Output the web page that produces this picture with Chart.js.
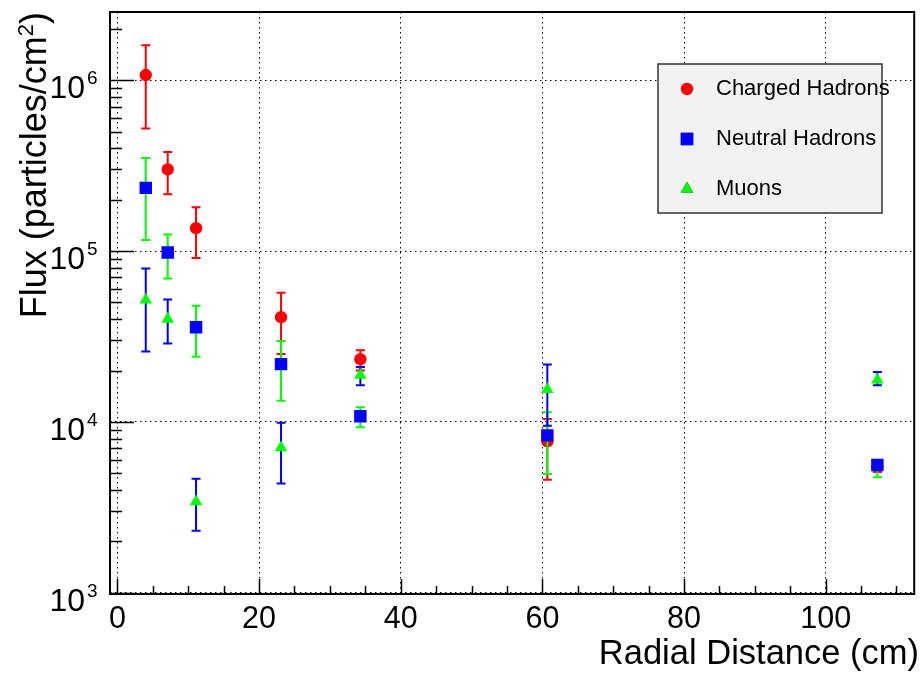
<!DOCTYPE html>
<html>
<head>
<meta charset="utf-8">
<script src="https://cdn.jsdelivr.net/npm/chart.js@4.4.1/dist/chart.umd.min.js"></script>
<style>
  body { margin: 0; background: #fff; }
  #wrap { width: 923px; height: 677px; }
</style>
</head>
<body>
<div id="wrap"><canvas id="mycanvas" width="923" height="677"></canvas></div>
<script>
// radial distance (cm)
let radius = [4.0, 7.1, 11.1, 23.1, 34.3, 60.7, 107.3];

// flux values, particles/cm2
let charged = [1.07e6, 3.0e5, 1.36e5, 4.1e4, 2.33e4, 7.7e3, 5.45e3];
let chargedLo = [5.2e5, 2.15e5, 9.1e4, 2.5e4, 2.0e4, 4.6e3, 5.1e3];
let chargedHi = [1.6e6, 3.8e5, 1.8e5, 5.7e4, 2.63e4, 1.04e4, 5.8e3];

let neutral = [2.34e5, 9.8e4, 3.58e4, 2.18e4, 1.08e4, 8.35e3, 5.6e3];
let neutralLo = [1.16e5, 6.9e4, 2.41e4, 1.33e4, 9.3e3, 4.97e3, 4.75e3];
let neutralHi = [3.5e5, 1.25e5, 4.79e4, 2.98e4, 1.22e4, 1.14e4, 6.0e3];

let muons = [5.17e4, 4.0e4, 3.42e3, 7.08e3, 1.88e4, 1.55e4, 1.76e4];
let muonsLo = [2.58e4, 2.88e4, 2.31e3, 4.37e3, 1.64e4, 9.5e3, 1.64e4];
let muonsHi = [7.9e4, 5.2e4, 4.65e3, 9.9e3, 2.1e4, 2.17e4, 1.96e4];

let xTicks = [0, 20, 40, 60, 80, 100];
let yDecades = [3, 4, 5, 6];

let FONT = "'Liberation Sans', Arial, Helvetica, sans-serif";

function pts(ys) {
    let out = [];
    for (let i in radius) {
        out.push({x: radius[i], y: ys[i]});
    }
    return out;
}

let chartdata = {
    datasets: [
        {
            label: "Charged Hadrons",
            data: pts(charged),
            errLo: chargedLo, errHi: chargedHi, errColor: "#ff0000",
            backgroundColor: "#ff0000",
            pointStyle: "circle",
            pointRadius: 6.2,
            pointBorderWidth: 0,
            order: 3
        },
        {
            label: "Neutral Hadrons",
            data: pts(neutral),
            errLo: neutralLo, errHi: neutralHi, errColor: "#00ff00",
            backgroundColor: "#0000ff",
            pointStyle: "rect",
            pointRadius: 8.8,
            pointBorderWidth: 0,
            order: 2
        },
        {
            label: "Muons",
            data: pts(muons),
            errLo: muonsLo, errHi: muonsHi, errColor: "#0000ff",
            backgroundColor: "#00ff00",
            pointStyle: "triangle",
            pointRadius: 7.2,
            pointBorderWidth: 0,
            order: 1
        }
    ]
};

// error bars, drawn just before each dataset's markers
let errorBars = {
    id: "errorBars",
    beforeDatasetDraw: function(chart, args) {
        let ds = chart.data.datasets[args.index];
        let xs = chart.scales.x, ys = chart.scales.y;
        let ctx = chart.ctx;
        ctx.save();
        ctx.strokeStyle = ds.errColor;
        ctx.lineWidth = 2;
        for (let i in ds.data) {
            let px = xs.getPixelForValue(ds.data[i].x);
            let lo = ys.getPixelForValue(ds.errLo[i]);
            let hi = ys.getPixelForValue(ds.errHi[i]);
            ctx.beginPath();
            ctx.moveTo(px, lo); ctx.lineTo(px, hi);
            ctx.moveTo(px - 4.5, lo); ctx.lineTo(px + 4.5, lo);
            ctx.moveTo(px - 4.5, hi); ctx.lineTo(px + 4.5, hi);
            ctx.stroke();
        }
        ctx.restore();
    }
};

// frame, inside ticks, labels, titles, legend
let decorations = {
    id: "decorations",
    afterDraw: function(chart) {
        let ctx = chart.ctx;
        let a = chart.chartArea;
        let xs = chart.scales.x, ys = chart.scales.y;
        ctx.save();

        // ticks
        ctx.strokeStyle = "#000";
        ctx.lineWidth = 1.5;
        ctx.beginPath();
        for (let v = 0; v <= xs.max; v += 5) {
            let px = Math.round(xs.getPixelForValue(v)) + 0.5;
            let len = (v % 20 === 0) ? 15 : 8;
            ctx.moveTo(px, a.bottom); ctx.lineTo(px, a.bottom - len);
        }
        for (let e = 2; e <= 6; e++) {
            for (let m = 1; m <= 9; m++) {
                let v = m * Math.pow(10, e);
                if (v < ys.min || v > ys.max) continue;
                let py = Math.round(ys.getPixelForValue(v)) + 0.5;
                let len = (m === 1) ? 24 : 12;
                ctx.moveTo(a.left, py); ctx.lineTo(a.left + len, py);
            }
        }
        ctx.stroke();

        // frame
        ctx.lineWidth = 2;
        ctx.strokeRect(a.left, a.top, a.right - a.left, a.bottom - a.top);

        // x tick labels
        ctx.fillStyle = "#000";
        ctx.font = "30.5px " + FONT;
        ctx.textAlign = "center";
        ctx.textBaseline = "alphabetic";
        for (let v of xTicks) {
            ctx.fillText(String(v), xs.getPixelForValue(v), 628);
        }

        // y tick labels 10^n
        for (let e of yDecades) {
            let py = ys.getPixelForValue(Math.pow(10, e));
            ctx.font = "32px " + FONT;
            ctx.textAlign = "right";
            ctx.fillText("10", 85, py + 18);
            ctx.font = "19px " + FONT;
            ctx.textAlign = "left";
            ctx.fillText(String(e), 87, py + 4);
        }

        // x title
        ctx.font = "34.5px " + FONT;
        ctx.textAlign = "right";
        ctx.fillText("Radial Distance (cm)", 919, 664);

        // y title, rotated, ends at top
        ctx.save();
        ctx.translate(46, 12);
        ctx.rotate(-Math.PI / 2);
        ctx.textAlign = "left";
        ctx.font = "36px " + FONT;
        let t1 = "Flux (particles/cm";
        let w1 = ctx.measureText(t1).width;
        let w3 = ctx.measureText(")").width;
        ctx.font = "22px " + FONT;
        let w2 = ctx.measureText("2").width;
        let x0 = -(w1 + w2 + w3);
        ctx.font = "36px " + FONT;
        ctx.fillText(t1, x0, 0);
        ctx.fillText(")", x0 + w1 + w2, 0);
        ctx.font = "22px " + FONT;
        ctx.fillText("2", x0 + w1, -13);
        ctx.restore();

        // legend
        ctx.fillStyle = "#f2f2f2";
        ctx.fillRect(658, 64, 224, 149);
        ctx.strokeStyle = "#333";
        ctx.lineWidth = 1.5;
        ctx.strokeRect(658, 64, 224, 149);
        let rows = [89, 139, 189];
        chart.data.datasets.forEach(function(ds, i) {
            let y = rows[i];
            Chart.helpers.drawPoint(ctx, {
                pointStyle: ds.pointStyle,
                radius: ds.pointRadius,
                borderWidth: 0
            }, 687, y);
            ctx.fillStyle = ds.backgroundColor;
            ctx.fill();
            ctx.fillStyle = "#000";
            ctx.font = "22px " + FONT;
            ctx.textAlign = "left";
            ctx.textBaseline = "middle";
            ctx.fillText(ds.label, 716, y);
        });

        ctx.restore();
    }
};

let ctx = document.getElementById("mycanvas");

let fluxChart = new Chart(ctx, {
    type: "scatter",
    data: chartdata,
    options: {
        responsive: false,
        animation: false,
        devicePixelRatio: 1,
        layout: { padding: { top: 12, right: 4, left: 0, bottom: 0 } },
        plugins: {
            legend: { display: false },
            tooltip: { enabled: false }
        },
        scales: {
            x: {
                type: "linear",
                min: -1.05,
                max: 112.5,
                afterBuildTicks: function(scale) {
                    scale.ticks = xTicks.map(function(v) { return {value: v}; });
                },
                afterFit: function(scale) { scale.height = 83; },
                ticks: { display: false },
                grid: { color: "#000", lineWidth: 1, drawTicks: false },
                border: { display: false, dash: [1.5, 3.5] }
            },
            y: {
                type: "logarithmic",
                min: 986,
                max: 2.5e6,
                afterBuildTicks: function(scale) {
                    scale.ticks = yDecades.map(function(e) { return {value: Math.pow(10, e), major: true}; });
                },
                afterFit: function(scale) { scale.width = 110; },
                ticks: { display: false },
                grid: { color: "#000", lineWidth: 1, drawTicks: false },
                border: { display: false, dash: [1.5, 3.5] }
            }
        }
    },
    plugins: [errorBars, decorations]
});
</script>
</body>
</html>
